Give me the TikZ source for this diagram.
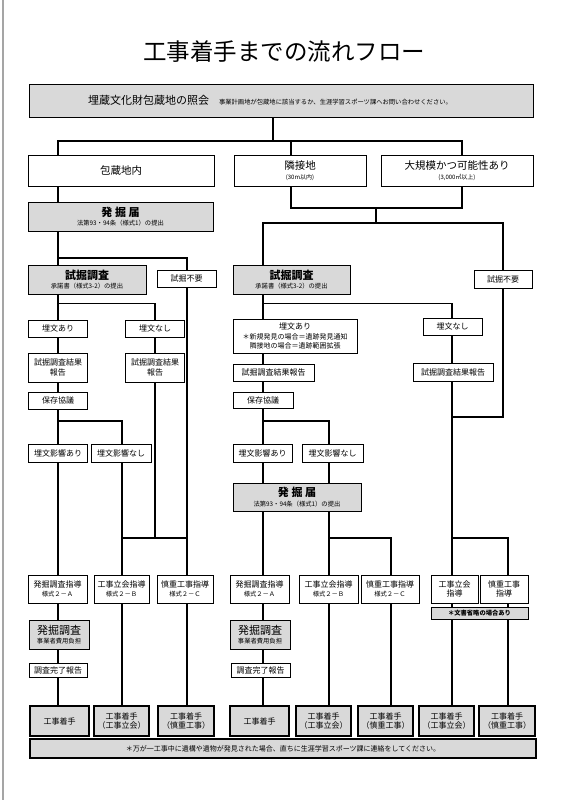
\documentclass[tikz,border=0pt]{standalone}
\usepackage{fontspec}
\setmainfont{Noto Sans CJK JP}
\usepackage{tikz}
\definecolor{boxgrey}{RGB}{217, 217, 217}
\definecolor{edgegrey}{RGB}{165, 165, 165}
\newcommand{\bigtxt}{\fontsize{11}{13}\selectfont}
\newcommand{\midtxt}{\fontsize{10.5}{12}\selectfont}
\newcommand{\subtxt}{\fontsize{6.3}{7.6}\selectfont}
\newcommand{\tinytxt}{\fontsize{6}{7}\selectfont}

\begin{document}
\begin{tikzpicture}[x=1pt, y=-1pt,
    every node/.style={font=\fontsize{8}{9.6}\selectfont, inner sep=0pt, align=center},
    box/.style={draw, fill=white, line width=0.9pt},
    greybox/.style={draw, fill=boxgrey, line width=0.9pt},
    startbox/.style={draw, fill=boxgrey, line width=1.5pt, minimum height=30pt},
    link/.style={line width=1.6pt}]
    \useasboundingbox (0,0) rectangle (567,800);
    \draw[edgegrey, line width=2pt] (2.5,0) -- (2.5,800);

    % title and inquiry
    \node[font=\fontsize{23.5}{26}\selectfont] (title) at (284,52) {工事着手までの流れフロー};
    \node[greybox, minimum width=504pt, minimum height=33pt] (query) at (281,100.5)
        {{\bigtxt 埋蔵文化財包蔵地の照会}\hspace{10pt}{\subtxt 事業計画地が包蔵地に該当するか、生涯学習スポーツ課へお問い合わせください。}\hspace*{22pt}};

    % site type
    \node[box, minimum width=186pt, minimum height=31pt] (hokan) at (121,170.5) {\midtxt 包蔵地内};
    \node[box, minimum width=132pt, minimum height=31pt] (rinsetsu) at (300,170.5) {\midtxt 隣接地\\{\tinytxt (30m以内)}};
    \node[box, minimum width=152pt, minimum height=31pt] (daikibo) at (457,170.5) {\midtxt 大規模かつ可能性あり\\{\tinytxt (3,000㎡以上)}};

    % left side
    \node[greybox, minimum width=185pt, minimum height=29pt] (todokeL) at (120.5,216.5) {{\bigtxt\bfseries 発\ 掘\ 届}\\{\subtxt 法第93・94条（様式1）の提出}};
    \node[greybox, minimum width=118pt, minimum height=29pt] (shikutsuL) at (87,279.5) {{\bigtxt\bfseries 試掘調査}\\{\subtxt 承諾書（様式3-2）の提出}};
    \node[box, minimum width=59pt, minimum height=17pt] (fuyouL) at (186.5,278.5) {試掘不要};
    \node[box, minimum width=59pt, minimum height=17pt] (ariL) at (58,328.5) {埋文あり};
    \node[box, minimum width=59pt, minimum height=17pt] (nashiL) at (155,328.5) {埋文なし};
    \node[box, minimum width=59pt, minimum height=29pt] (houkokuLa) at (58,367.5) {試掘調査結果\\報告};
    \node[box, minimum width=59pt, minimum height=29pt] (houkokuLb) at (155,367.5) {試掘調査結果\\報告};
    \node[box, minimum width=59pt, minimum height=17pt] (kyougiL) at (58,400.5) {保存協議};
    \node[box, minimum width=59pt, minimum height=18pt] (eikyouariL) at (58,453) {埋文影響あり};
    \node[box, minimum width=60pt, minimum height=18pt] (eikyounashiL) at (121,453) {埋文影響なし};

    % right side
    \node[greybox, minimum width=117pt, minimum height=29pt] (shikutsuR) at (291.5,279.5) {{\bigtxt\bfseries 試掘調査}\\{\subtxt 承諾書（様式3-2）の提出}};
    \node[box, minimum width=58pt, minimum height=18pt] (fuyouR) at (503,279) {試掘不要};
    \node[box, minimum width=124pt, minimum height=34pt] (ariR) at (295,336)
        {埋文あり\\{\fontsize{7}{8.2}\selectfont ＊新規発見の場合＝遺跡発見通知}\\{\fontsize{7}{8.2}\selectfont 隣接地の場合＝遺跡範囲拡張}};
    \node[box, minimum width=59pt, minimum height=17pt] (nashiR) at (452.5,326.5) {埋文なし};
    \node[box, minimum width=81pt, minimum height=17pt] (houkokuRa) at (273.5,372.5) {試掘調査結果報告};
    \node[box, minimum width=80pt, minimum height=18pt] (houkokuRb) at (453,372) {試掘調査結果報告};
    \node[box, minimum width=60pt, minimum height=16pt] (kyougiR) at (263,400) {保存協議};
    \node[box, minimum width=59pt, minimum height=18pt] (eikyouariR) at (262.5,453) {埋文影響あり};
    \node[box, minimum width=61pt, minimum height=18pt] (eikyounashiR) at (332.5,453) {埋文影響なし};
    \node[greybox, minimum width=128pt, minimum height=28pt] (todokeR) at (297,497) {{\bigtxt\bfseries 発\ 掘\ 届}\\{\subtxt 法第93・94条（様式1）の提出}};

    % guidance row
    \node[box, minimum width=59pt, minimum height=28pt] (shidouLa) at (57.5,589) {発掘調査指導\\{\subtxt 様式２－Ａ}};
    \node[box, minimum width=55pt, minimum height=28pt] (shidouLb) at (121.5,589) {工事立会指導\\{\subtxt 様式２－Ｂ}};
    \node[box, minimum width=56pt, minimum height=28pt] (shidouLc) at (185,589) {慎重工事指導\\{\subtxt 様式２－Ｃ}};
    \node[box, minimum width=59pt, minimum height=28pt] (shidouRa) at (259.5,589) {発掘調査指導\\{\subtxt 様式２－Ａ}};
    \node[box, minimum width=59pt, minimum height=28pt] (shidouRb) at (328.5,589) {工事立会指導\\{\subtxt 様式２－Ｂ}};
    \node[box, minimum width=58pt, minimum height=28pt] (shidouRc) at (390,589) {慎重工事指導\\{\subtxt 様式２－Ｃ}};
    \node[box, minimum width=47pt, minimum height=28pt] (shidouRd) at (454.5,589) {工事立会\\指導};
    \node[box, minimum width=48pt, minimum height=28pt] (shidouRe) at (504,589) {慎重工事\\指導};
    \node[greybox, minimum width=97pt, minimum height=12pt, font=\subtxt\bfseries] (shouryaku) at (479.5,613) {＊文書省略の場合あり};

    % excavation
    \node[greybox, minimum width=60pt, minimum height=29pt] (chousaL) at (59,634.5) {{\bigtxt 発掘調査}\\{\subtxt 事業者費用負担}};
    \node[greybox, minimum width=60pt, minimum height=29pt] (chousaR) at (260,634.5) {{\bigtxt 発掘調査}\\{\subtxt 事業者費用負担}};
    \node[box, minimum width=58pt, minimum height=14pt] (kanryouL) at (58,670) {調査完了報告};
    \node[box, minimum width=59pt, minimum height=14pt] (kanryouR) at (260.5,670) {調査完了報告};

    % start of works
    \node[startbox, minimum width=59pt] (chakuLa) at (59.5,721) {工事着手};
    \node[startbox, minimum width=55pt] (chakuLb) at (121.5,721) {工事着手\\（工事立会）};
    \node[startbox, minimum width=56pt] (chakuLc) at (186,721) {工事着手\\（慎重工事）};
    \node[startbox, minimum width=59pt] (chakuRa) at (259.5,721) {工事着手};
    \node[startbox, minimum width=55pt] (chakuRb) at (323.5,721) {工事着手\\（工事立会）};
    \node[startbox, minimum width=55pt] (chakuRc) at (385.5,721) {工事着手\\（慎重工事）};
    \node[startbox, minimum width=55pt] (chakuRd) at (446.5,721) {工事着手\\（工事立会）};
    \node[startbox, minimum width=56pt] (chakuRe) at (507,721) {工事着手\\（慎重工事）};
    \node[greybox, line width=1.2pt, minimum width=506pt, minimum height=19pt, font=\fontsize{7}{8}\selectfont] (note) at (283,748.5)
        {＊万が一工事中に遺構や遺物が発見された場合、直ちに生涯学習スポーツ課に連絡をしてください。};

    % line columns and rows
    \coordinate (xa) at (58,0);
    \coordinate (xb) at (122,0);
    \coordinate (xc) at (155,0);
    \coordinate (xd) at (187,0);
    \coordinate (xe) at (263,0);
    \coordinate (xf) at (291,0);
    \coordinate (xg) at (329,0);
    \coordinate (xh) at (376,0);
    \coordinate (xi) at (391,0);
    \coordinate (xj) at (452,0);
    \coordinate (xk) at (462,0);
    \coordinate (xl) at (503,0);
    \coordinate (xm) at (508,0);
    \coordinate (xq) at (273,0);
    \coordinate (ya) at (0,141);
    \coordinate (yb) at (0,208);
    \coordinate (yc) at (0,223);
    \coordinate (yd) at (0,258);
    \coordinate (ye) at (0,303.5);
    \coordinate (yf) at (0,421);
    \coordinate (yg) at (0,417);
    \coordinate (yh) at (0,538);

    % top connectors
    \draw[link] (query.south -| xq) -- (xq |- ya);
    \draw[link] (hokan.north -| xa) -- (xa |- ya) -- (xk |- ya) -- (daikibo.north -| xk);
    \draw[link] (rinsetsu.north -| xf) -- (xf |- ya);
    \draw[link] (rinsetsu.south -| xf) -- (xf |- yb) -- (xk |- yb) -- (daikibo.south -| xk);
    \draw[link] (xh |- yb) -- (xh |- yc);
    \draw[link] (shikutsuR.north -| xe) -- (xe |- yc) -- (xl |- yc) -- (fuyouR.north -| xl);

    % left connectors
    \draw[link] (hokan.south -| xa) -- (todokeL.north -| xa);
    \draw[link] (todokeL.south -| xa) -- (shikutsuL.north -| xa);
    \draw[link] (xa |- yd) -- (xd |- yd) -- (fuyouL.north -| xd);
    \draw[link] (shikutsuL.south -| xa) -- (ariL.north -| xa);
    \draw[link] (xa |- ye) -- (xc |- ye) -- (nashiL.north -| xc);
    \draw[link] (ariL.south -| xa) -- (houkokuLa.north -| xa);
    \draw[link] (houkokuLa.south -| xa) -- (kyougiL.north -| xa);
    \draw[link] (kyougiL.south -| xa) -- (eikyouariL.north -| xa);
    \draw[link] (xa |- yf) -- (xb |- yf) -- (eikyounashiL.north -| xb);
    \draw[link] (nashiL.south -| xc) -- (houkokuLb.north -| xc);
    \draw[link] (houkokuLb.south -| xc) -- (xc |- yh);
    \draw[link] (xb |- yh) -- (xd |- yh);
    \draw[link] (eikyouariL.south -| xa) -- (shidouLa.north -| xa);
    \draw[link] (eikyounashiL.south -| xb) -- (shidouLb.north -| xb);
    \draw[link] (fuyouL.south -| xd) -- (shidouLc.north -| xd);
    \draw[link] (shidouLa.south -| xa) -- (chousaL.north -| xa);
    \draw[link] (chousaL.south -| xa) -- (kanryouL.north -| xa);
    \draw[link] (kanryouL.south -| xa) -- (chakuLa.north -| xa);
    \draw[link] (shidouLb.south -| xb) -- (chakuLb.north -| xb);
    \draw[link] (shidouLc.south -| xd) -- (chakuLc.north -| xd);

    % right connectors
    \draw[link] (shikutsuR.south -| xe) -- (ariR.north -| xe);
    \draw[link] (xe |- ye) -- (xj |- ye) -- (nashiR.north -| xj);
    \draw[link] (ariR.south -| xe) -- (houkokuRa.north -| xe);
    \draw[link] (houkokuRa.south -| xe) -- (kyougiR.north -| xe);
    \draw[link] (kyougiR.south -| xe) -- (eikyouariR.north -| xe);
    \draw[link] (xe |- yf) -- (xg |- yf) -- (eikyounashiR.north -| xg);
    \draw[link] (eikyouariR.south -| xe) -- (todokeR.north -| xe);
    \draw[link] (eikyounashiR.south -| xg) -- (todokeR.north -| xg);
    \draw[link] (todokeR.south -| xe) -- (shidouRa.north -| xe);
    \draw[link] (todokeR.south -| xg) -- (shidouRb.north -| xg);
    \draw[link] (xg |- yh) -- (xi |- yh) -- (shidouRc.north -| xi);
    \draw[link] (nashiR.south -| xj) -- (houkokuRb.north -| xj);
    \draw[link] (houkokuRb.south -| xj) -- (shidouRd.north -| xj);
    \draw[link] (fuyouR.south -| xl) -- (xl |- yg) -- (xj |- yg);
    \draw[link] (xj |- yh) -- (xm |- yh) -- (shidouRe.north -| xm);
    \draw[link] (shidouRa.south -| xe) -- (chousaR.north -| xe);
    \draw[link] (chousaR.south -| xe) -- (kanryouR.north -| xe);
    \draw[link] (kanryouR.south -| xe) -- (chakuRa.north -| xe);
    \draw[link] (shidouRb.south -| xg) -- (chakuRb.north -| xg);
    \draw[link] (shidouRc.south -| xi) -- (chakuRc.north -| xi);
    \draw[link] (shidouRd.south -| xj) -- (shouryaku.north -| xj);
    \draw[link] (shidouRe.south -| xm) -- (shouryaku.north -| xm);
    \draw[link] (shouryaku.south -| xj) -- (chakuRd.north -| xj);
    \draw[link] (shouryaku.south -| xm) -- (chakuRe.north -| xm);
\end{tikzpicture}
\end{document}
